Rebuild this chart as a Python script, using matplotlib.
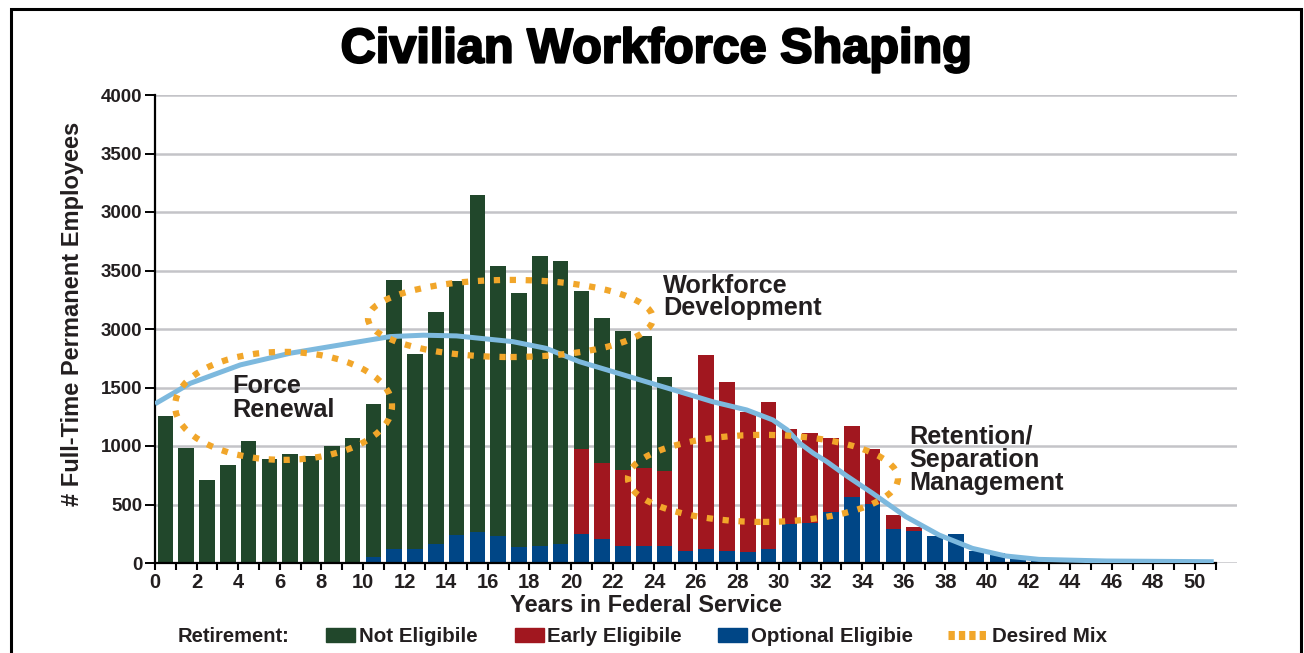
import numpy as np
import matplotlib
matplotlib.use("Agg")
import matplotlib.pyplot as plt
from matplotlib.patches import Ellipse, Rectangle
from matplotlib.lines import Line2D
import matplotlib.patheffects as pe

# ---------------- data ----------------
years = np.arange(51)
optional_eligible = [0, 0, 0, 0, 0, 0, 0, 0, 0, 0,
                     54, 119, 119, 165, 239, 267, 233, 136, 148, 165,
                     250, 205, 148, 148, 148, 105, 119, 105, 97, 119,
                     335, 341, 438, 563, 506, 290, 273, 230, 247, 102,
                     83, 60, 45, 35, 25, 20, 15, 12, 10, 8, 5]
early_eligible = [0, 0, 0, 0, 0, 0, 0, 0, 0, 0,
                  0, 0, 0, 0, 0, 0, 0, 0, 0, 0,
                  722, 648, 648, 665, 637, 1342, 1655, 1439, 1194, 1254,
                  814, 768, 631, 605, 469, 119, 34, 0, 0, 0,
                  0, 0, 0, 0, 0, 0, 0, 0, 0, 0, 0]
not_eligible = [1254, 983, 708, 836, 1041, 887, 930, 913, 998, 1069,
                1302, 2303, 1669, 1984, 2169, 2880, 2309, 2175, 2479, 2419,
                1350, 1237, 1183, 1126, 801, 0, 0, 0, 0, 0,
                0, 0, 0, 0, 0, 0, 0, 0, 0, 0,
                0, 0, 0, 0, 0, 0, 0, 0, 0, 0, 0]

trend_years = [0.0, 1.7, 4.1, 6.5, 8.9, 11.3, 12.9, 14.5, 15.6, 17.2, 18.8,
               20.4, 22.0, 23.6, 25.2, 26.8, 28.45, 29.7, 30.4, 31.0, 31.65,
               32.3, 33.25, 34.5, 36.1, 37.7, 39.3, 40.9, 42.5, 45.75, 50.9]
trend_values = [1360, 1536, 1693, 1793, 1864, 1935, 1947, 1941, 1921, 1892, 1835,
                1721, 1636, 1550, 1465, 1379, 1308, 1223, 1137, 1023, 938,
                866, 745, 596, 396, 239, 125, 60, 31, 17, 11]

ytick_values = [0, 500, 1000, 1500, 2000, 2500, 3000, 3500, 4000]
ytick_labels = ['0', '500', '1000', '1500', '3000', '3500', '3000', '3500', '4000']
xtick_major = list(range(0, 51, 2))
xtick_minor = list(range(1, 52, 2))

mix_centers = [(6.18, 1343), (17.09, 2090), (29.23, 723)]
mix_widths = [10.43, 13.7, 12.98]
mix_heights = [923, 659, 744]

# ---------------- style ----------------
GREEN = '#21472B'
RED = '#A1171F'
BLUE = '#004686'
LIGHTBLUE = '#7DB9DE'
ORANGE = '#F1A62A'
TXT = '#231F20'
FONT = 'Liberation Sans'

W, H = 1304, 653
fig = plt.figure(figsize=(W / 100, H / 100), dpi=100)
fig.patch.set_facecolor('white')


def fx(px):
    return px / W


def fy(py):
    return 1 - py / H


ax = fig.add_axes([fx(155), fy(563), fx(1236.6) - fx(155), fy(95) - fy(563)])
ax.set_xlim(0, 52)
ax.set_ylim(0, 4000)

x = years + 0.5
blue = np.array(optional_eligible)
red = np.array(early_eligible)
green = np.array(not_eligible)
ax.bar(x, blue, width=0.75, color=BLUE, zorder=2)
ax.bar(x, red, width=0.75, bottom=blue, color=RED, zorder=2)
ax.bar(x, green, width=0.75, bottom=blue + red, color=GREEN, zorder=2)

ax.plot(trend_years, trend_values, color=LIGHTBLUE, lw=3.6, zorder=3,
        solid_capstyle='butt')

for c, w, h in zip(mix_centers, mix_widths, mix_heights):
    e = Ellipse(c, w, h, fill=False, edgecolor=ORANGE, lw=4.5,
                linestyle=(0, (1, 1.55)), zorder=4)
    ax.add_patch(e)

# grid
ax.set_yticks(ytick_values)
ax.set_yticklabels(ytick_labels)
ax.yaxis.grid(True, color='#C4C4C8', lw=1.8)
ax.set_axisbelow(True)

ax.set_xticks(xtick_major)
ax.set_xticks(xtick_minor, minor=True)
ax.set_xticklabels([str(v) for v in xtick_major])

for s in ['top', 'right']:
    ax.spines[s].set_visible(False)
ax.spines['left'].set_linewidth(1.6)
ax.spines['bottom'].set_linewidth(1.6)
ax.spines['bottom'].set_bounds(0, 51)
ax.spines['left'].set_color('black')
ax.spines['bottom'].set_color('black')

ax.tick_params(axis='y', direction='out', length=7, width=1.4, pad=2,
               labelsize=13.5, labelcolor=TXT)
ax.tick_params(axis='x', which='both', direction='out', length=5, width=1.5,
               pad=2, labelsize=14.5, labelcolor=TXT)
for lab in ax.get_xticklabels() + ax.get_yticklabels():
    lab.set_fontfamily(FONT)
    lab.set_fontweight('bold')

# title
fig.text(fx(656), fy(50), 'Civilian Workforce Shaping', ha='center', va='center',
         fontsize=35, fontweight='bold', family=FONT, color='black',
         path_effects=[pe.withStroke(linewidth=1.6, foreground='black')])

# axis labels
fig.text(fx(72.5), fy(314), '# Full-Time Permanent Employees', rotation=90,
         ha='center', va='center', fontsize=17, fontweight='bold', family=FONT,
         color=TXT)
fig.text(fx(646), fy(605), 'Years in Federal Service', ha='center', va='center',
         fontsize=17, fontweight='bold', family=FONT, color=TXT)

# annotations (each line separately)
ann = [
    (232, 393, 'Force'), (232, 416.7, 'Renewal'),
    (663, 293.3, 'Workforce'), (663, 315, 'Development'),
    (909, 444, 'Retention/'), (909, 467.3, 'Separation'), (909, 490, 'Management'),
]
for px, py, t in ann:
    fig.text(fx(px), fy(py), t, ha='left', va='baseline', fontsize=18.2,
             fontweight='bold', family=FONT, color=TXT)

# legend
LY = 641.7
fig.text(fx(178), fy(LY), 'Retirement:', ha='left', va='baseline', fontsize=14.5,
         fontweight='bold', family=FONT, color=TXT)
leg_items = [(326, 359, GREEN, 'Not Eligibile'),
             (515, 547, RED, 'Early Eligibile'),
             (718, 751, BLUE, 'Optional Eligibie')]
for rx, tx, col, lab in leg_items:
    fig.patches.append(Rectangle((fx(rx), fy(642)), fx(29), 14 / H,
                                 transform=fig.transFigure, color=col))
    fig.text(fx(tx), fy(LY), lab, ha='left', va='baseline', fontsize=14.8,
             fontweight='bold', family=FONT, color=TXT)
fig.lines.append(Line2D([fx(948), fx(987)], [fy(635), fy(635)],
                        transform=fig.transFigure, color=ORANGE, lw=6.5,
                        linestyle=(0, (0.7, 0.45)), solid_capstyle='butt',
                        dash_capstyle='butt'))
fig.text(fx(992), fy(LY), 'Desired Mix', ha='left', va='baseline', fontsize=14.8,
         fontweight='bold', family=FONT, color=TXT)

# frame border
fig.patches.append(Rectangle((fx(10.5), -0.05), fx(1301) - fx(10.5), fy(8.5) + 0.05,
                             transform=fig.transFigure, fill=False,
                             edgecolor='black', lw=2.2))

fig.savefig('out.png', dpi=100)
